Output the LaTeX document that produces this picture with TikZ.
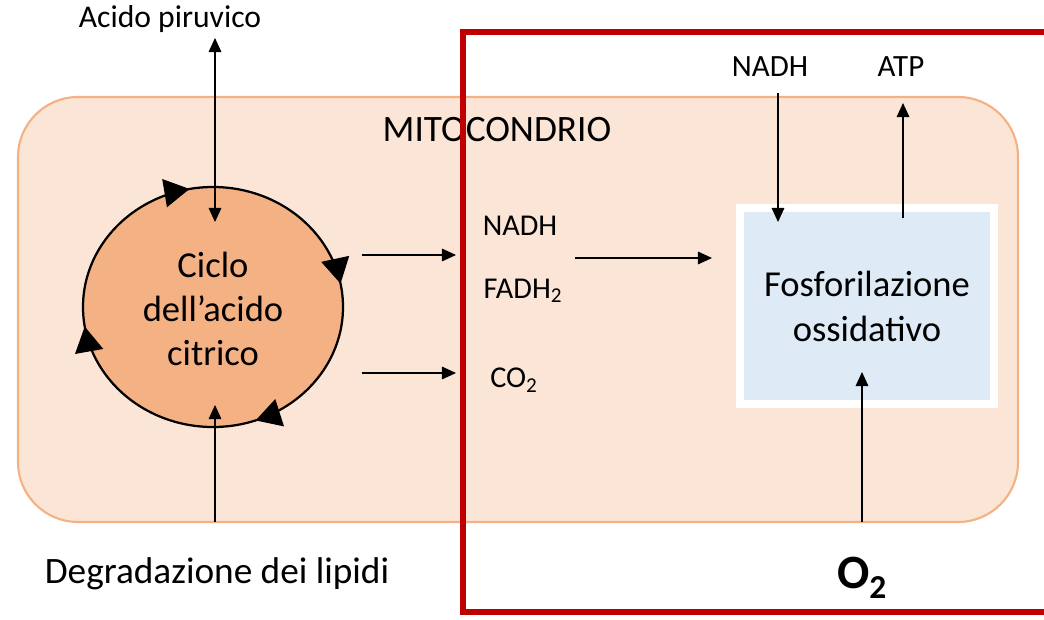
\documentclass[tikz,border=0pt]{standalone}
\usepackage{fontspec}
\setmainfont{Carlito}
\usetikzlibrary{arrows.meta,decorations.markings}

\begin{document}
\begin{tikzpicture}[x=0.025cm, y=-0.025cm, line width=0.8pt,
    freccia/.style={-{Triangle[length=10pt,width=9pt]}},
    punta/.tip={Triangle[length=18pt,width=20pt]}]
    \definecolor{pesca}{RGB}{251,229,214}   % sfondo
    \definecolor{arancio}{RGB}{244,177,131} % bordo e ciclo
    \definecolor{rosso}{RGB}{192,0,0}       % riquadro
    \definecolor{azzurro}{RGB}{222,235,247} % fosforilazione

    \useasboundingbox (0,0) rectangle (1044,619);

    % mitocondrio
    \draw[arancio, fill=pesca, line width=1.5pt, rounded corners=1.5cm] (18,97) rectangle (1018,522);
    \node (mito) at (497,130) [font=\fontsize{26.5}{30}\selectfont] {MITOCONDRIO};

    % ciclo
    \filldraw[fill=arancio, draw=black, line width=1.6pt, postaction={decorate},
      decoration={markings,
        mark=at position 0.195 with {\arrow{punta}},
        mark=at position 0.475 with {\arrow{punta}},
        mark=at position 0.72 with {\arrow{punta}},
        mark=at position 0.97 with {\arrow{punta}}}]
      (213,307) ellipse [x radius=130, y radius=120];
    \node (ciclo) at (213,309) [align=center, font=\fontsize{26}{31.5}\selectfont] {Ciclo\\dell’acido\\citrico};

    \node (piruvico) at (170,19) [font=\fontsize{22.5}{26}\selectfont] {Acido piruvico};
    \node (lipidi) at (217,574) [font=\fontsize{26.5}{30}\selectfont] {Degradazione dei lipidi};
    \coordinate (pirA) at (215,38);
    \coordinate (pirB) at (215,222);
    \coordinate (lipA) at (215,522);
    \coordinate (lipB) at (215,405);
    \draw[{Triangle[length=10pt,width=9pt]}-{Triangle[length=10pt,width=9pt]}] (pirA) -- (pirB);
    \draw[freccia] (lipA) -- (lipB);

    % prodotti
    \node (nadhA) at (520,226) [font=\fontsize{21.5}{25}\selectfont] {NADH};
    \node (fadh) at (523,291) [font=\fontsize{21.5}{25}\selectfont] {FADH\textsubscript{2}};
    \node (co2) at (514,380) [font=\fontsize{21.5}{25}\selectfont] {CO\textsubscript{2}};
    \coordinate (u1) at (362,255);
    \coordinate (v1) at (456,255);
    \coordinate (u2) at (362,373);
    \coordinate (v2) at (456,373);
    \coordinate (u3) at (575,258);
    \coordinate (v3) at (712,258);
    \draw[freccia] (u1) -- (v1);
    \draw[freccia] (u2) -- (v2);
    \draw[freccia] (u3) -- (v3);

    % fosforilazione
    \node (fosfo) at (867,306) [draw=white, line width=0.2cm, fill=azzurro, minimum width=6.35cm, minimum height=4.9cm,
      align=center, font=\fontsize{26}{32}\selectfont] {Fosforilazione\\ossidativo};
    \node (nadhB) at (770,67) [font=\fontsize{22}{25}\selectfont] {NADH};
    \node (atp) at (901,67) [font=\fontsize{22}{25}\selectfont] {ATP};
    \node (o2) at (862,578) [font=\fontsize{34}{38}\selectfont\bfseries] {O\textsubscript{2}};
    \coordinate (n1) at (778,93);
    \coordinate (n2) at (778,222);
    \coordinate (t1) at (903,218);
    \coordinate (t2) at (903,103);
    \coordinate (o1) at (862,522);
    \coordinate (o3) at (862,372);
    \draw[freccia] (n1) -- (n2);
    \draw[freccia] (t1) -- (t2);
    \draw[freccia] (o1) -- (o3);

    % riquadro rosso
    \draw[rosso, line width=4.5pt] (1050,32) -- (463,32) -- (463,612) -- (1050,612);
  \end{tikzpicture}
\end{document}
